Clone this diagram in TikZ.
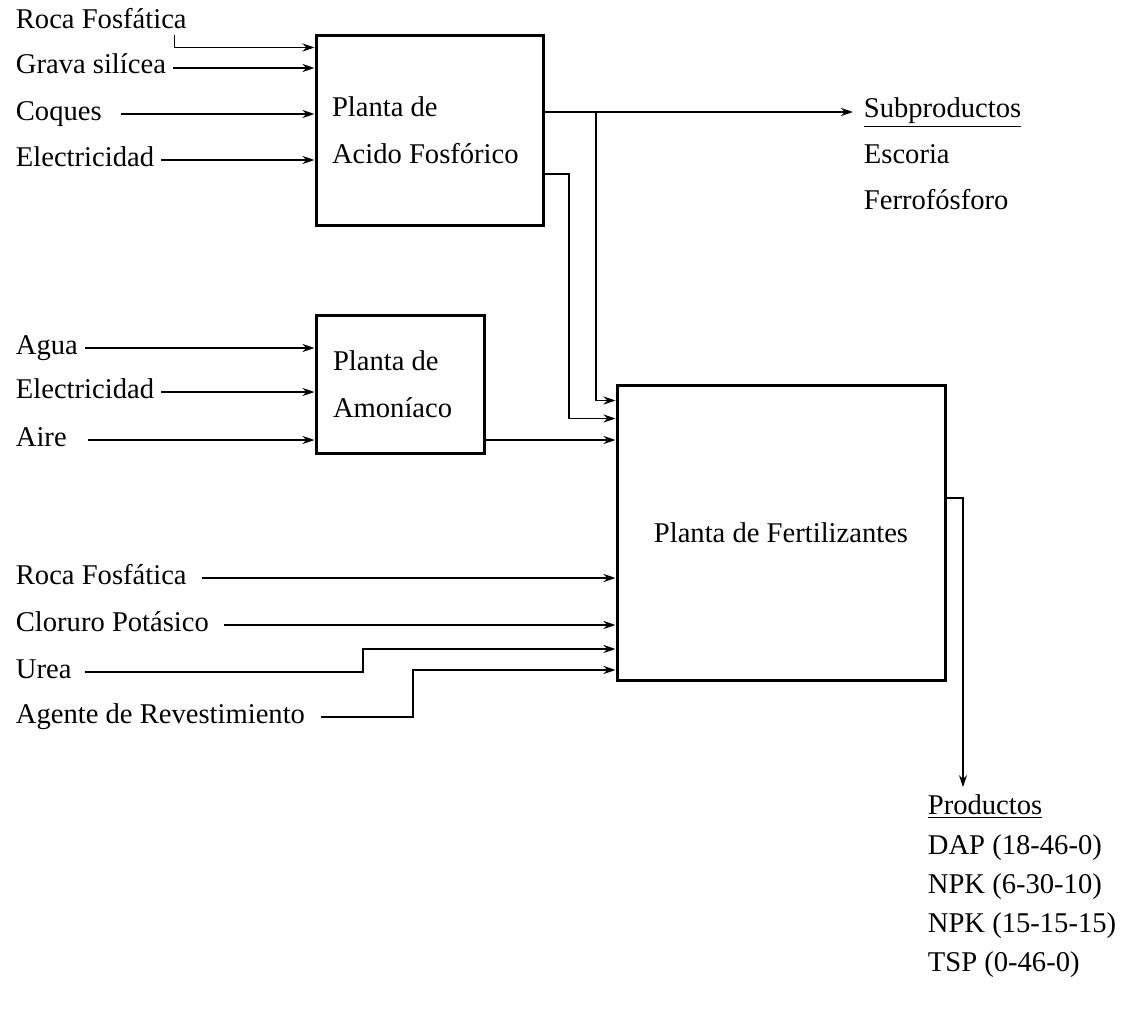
\documentclass[tikz,border=0pt]{standalone}
\usepackage{fontspec}
\setmainfont{Liberation Serif}
\usetikzlibrary{positioning,arrows.meta}
\tikzset{
flow/.style={line width=0.9pt}, % connectors a bit heavier
>={Stealth[length=6pt,width=4pt]},
plant/.style={draw,rectangle,line width=1.5pt,inner sep=0pt},
feed/.style={anchor=west,inner sep=3pt,text height=9pt,text depth=3pt},
item/.style={anchor=west,inner sep=0pt,text height=9pt,text depth=3pt},
}
\begin{document}
\begin{tikzpicture}[flow,x=0.5pt,y=-0.5pt,font=\fontsize{14.3}{23.5}\selectfont]
\useasboundingbox (0,0) rectangle (1132,1012);

% plants
\node[plant,minimum width=113.5pt,minimum height=95pt,align=flush left,text width=97.5pt] (acid) at (429.5,130) {Planta de\\Acido Fosfórico};
\node[plant,minimum width=84pt,minimum height=69pt,align=flush left,text width=67pt] (ammonia) at (400,384) {Planta de\\Amoníaco};
\node[plant,minimum width=164pt,minimum height=147.5pt] (fert) at (781,532.5) {Planta de Fertilizantes};

% feeds of the acid plant
\node[feed] (roca1) at (9,22) {Roca Fosfática};
\node[feed,below=23pt of roca1.west,anchor=west] (grava) {Grava silícea};
\node[feed,below=23pt of grava.west,anchor=west] (coques) {Coques};
\node[feed,below=23pt of coques.west,anchor=west] (elec1) {Electricidad};

\draw[->] ([xshift=-9.5pt,yshift=3pt]roca1.south east) |- ([yshift=-7pt]acid.north west);
\draw[->] (grava.east) -- (grava.east -| acid.west);
\draw[->,shorten <=6pt] (coques.east) -- (coques.east -| acid.west);
\draw[->] (elec1.east) -- (elec1.east -| acid.west);

% feeds of the ammonia plant
\node[feed] (agua) at (9,348) {Agua};
\node[feed,below=22pt of agua.west,anchor=west] (elec2) {Electricidad};
\node[feed,below=24pt of elec2.west,anchor=west] (aire) {Aire};

\draw[->] (agua.east) -- (agua.east -| ammonia.west);
\draw[->] (elec2.east) -- (elec2.east -| ammonia.west);
\draw[->,shorten <=7pt] (aire.east) -- (aire.east -| ammonia.west);

% feeds of the fertilizer plant
\node[feed] (roca2) at (9,578) {Roca Fosfática};
\node[feed,below=23.5pt of roca2.west,anchor=west] (cloruro) {Cloruro Potásico};
\node[feed,below=23.5pt of cloruro.west,anchor=west] (urea) {Urea};
\node[feed,below=22.5pt of urea.west,anchor=west] (agente) {Agente de Revestimiento};

\coordinate (urea-up) at (363,649);
\coordinate (agente-up) at (413,670);
\draw[->,shorten <=4pt] (roca2.east) -- (roca2.east -| fert.west);
\draw[->,shorten <=4pt] (cloruro.east) -- (cloruro.east -| fert.west);
\draw[->,shorten <=3.5pt] (urea.east) -| (urea-up) -- (urea-up -| fert.west);
\draw[->,shorten <=4.5pt] (agente.east) -| (agente-up) -- (agente-up -| fert.west);

% by-products
\node[item] (subp) at (863,112) {\underline{Subproductos}};
\node[item,below=22.5pt of subp.west,anchor=west] (escoria) {Escoria};
\node[item,below=23pt of escoria.west,anchor=west] (ferro) {Ferrofósforo};

\coordinate (drop1) at (596,112);
\coordinate (drop2) at (569,174);
\draw[->,shorten >=5pt] (acid.east |- subp.west) -- (subp.west);
\draw[->] (drop1) |- ([yshift=-8.5pt]fert.north west);
\draw[->] (acid.east |- drop2) -- (drop2) |- ([yshift=-17.5pt]fert.north west);
\draw[->] (ammonia.east |- aire.east) -- (aire.east -| fert.west);

% products
\node[item] (prod) at (927,808) {\underline{Productos}};
\node[item,below=20pt of prod.west,anchor=west] (dap) {DAP (18-46-0)};
\node[item,below=19.5pt of dap.west,anchor=west] (npk1) {NPK (6-30-10)};
\node[item,below=19.5pt of npk1.west,anchor=west] (npk2) {NPK (15-15-15)};
\node[item,below=19.5pt of npk2.west,anchor=west] (tsp) {TSP (0-46-0)};

\coordinate (prod-drop) at (963,498);
\draw[->,shorten >=4pt] (fert.east |- prod-drop) -- (prod-drop) -- (prod-drop |- prod.north);
\end{tikzpicture}
\end{document}
